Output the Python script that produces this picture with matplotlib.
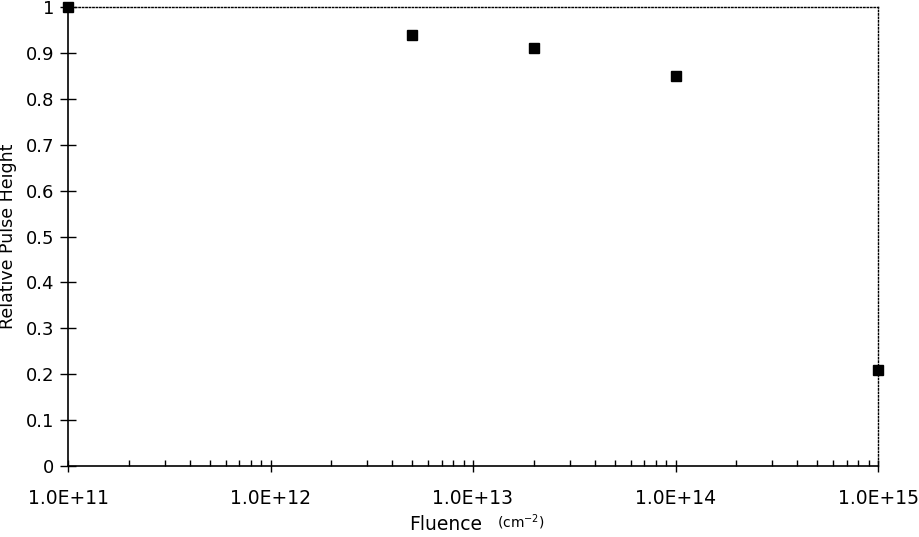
import numpy as np
import matplotlib
matplotlib.use('Agg')
import matplotlib.pyplot as plt
from matplotlib.ticker import FixedLocator, LogLocator, NullFormatter

# Данные: флюенс и относительная амплитуда импульса
fluence = [1e11, 5e12, 2e13, 1e14, 1e15]
pulse_height = [1.0, 0.94, 0.91, 0.85, 0.21]

y_ticks = [0, 0.1, 0.2, 0.3, 0.4, 0.5, 0.6, 0.7, 0.8, 0.9, 1]
y_tick_labels = ['0', '0.1', '0.2', '0.3', '0.4', '0.5', '0.6', '0.7', '0.8', '0.9', '1']
x_ticks = [1e11, 1e12, 1e13, 1e14, 1e15]
x_tick_labels = ['1.0E+11', '1.0E+12', '1.0E+13', '1.0E+14', '1.0E+15']

plt.rcParams['font.family'] = ['DejaVu Sans']

fig = plt.figure(figsize=(9.2, 5.37), dpi=100)
ax = fig.add_axes([68 / 920, 1 - 466 / 537, 810 / 920, 459 / 537])

ax.plot(fluence, pulse_height, linestyle='none', marker='s', markersize=7.5,
        color='black', clip_on=False, zorder=5)

ax.set_xscale('log')
ax.set_xlim(1e11, 1e15)
ax.set_ylim(0, 1)

ax.xaxis.set_major_locator(FixedLocator(x_ticks))
ax.set_xticklabels(x_tick_labels)
ax.xaxis.set_minor_locator(LogLocator(base=10, subs=np.arange(2, 10)))
ax.xaxis.set_minor_formatter(NullFormatter())
ax.set_yticks(y_ticks)
ax.set_yticklabels(y_tick_labels)

ax.tick_params(axis='x', which='major', direction='inout', length=9, width=1,
               labelsize=13.5, pad=12)
ax.tick_params(axis='x', which='minor', direction='in', length=4, width=1)
ax.tick_params(axis='y', which='major', direction='inout', length=12, width=1,
               labelsize=13, pad=4)

for s in ['left', 'bottom']:
    ax.spines[s].set_linewidth(1.2)
for s in ['top', 'right']:
    ax.spines[s].set_linestyle((0, (1, 1.5)))
    ax.spines[s].set_linewidth(1.0)

ax.set_ylabel('Relative Pulse Height', fontsize=12.5, labelpad=6)

fig.text(446 / 920, 1 - 524 / 537, 'Fluence', fontsize=13.5, ha='center', va='center')
fig.text(497 / 920, 1 - 522 / 537, '(cm$^{-2}$)', fontsize=10, ha='left', va='center')

fig.savefig('out.png', dpi=100)
